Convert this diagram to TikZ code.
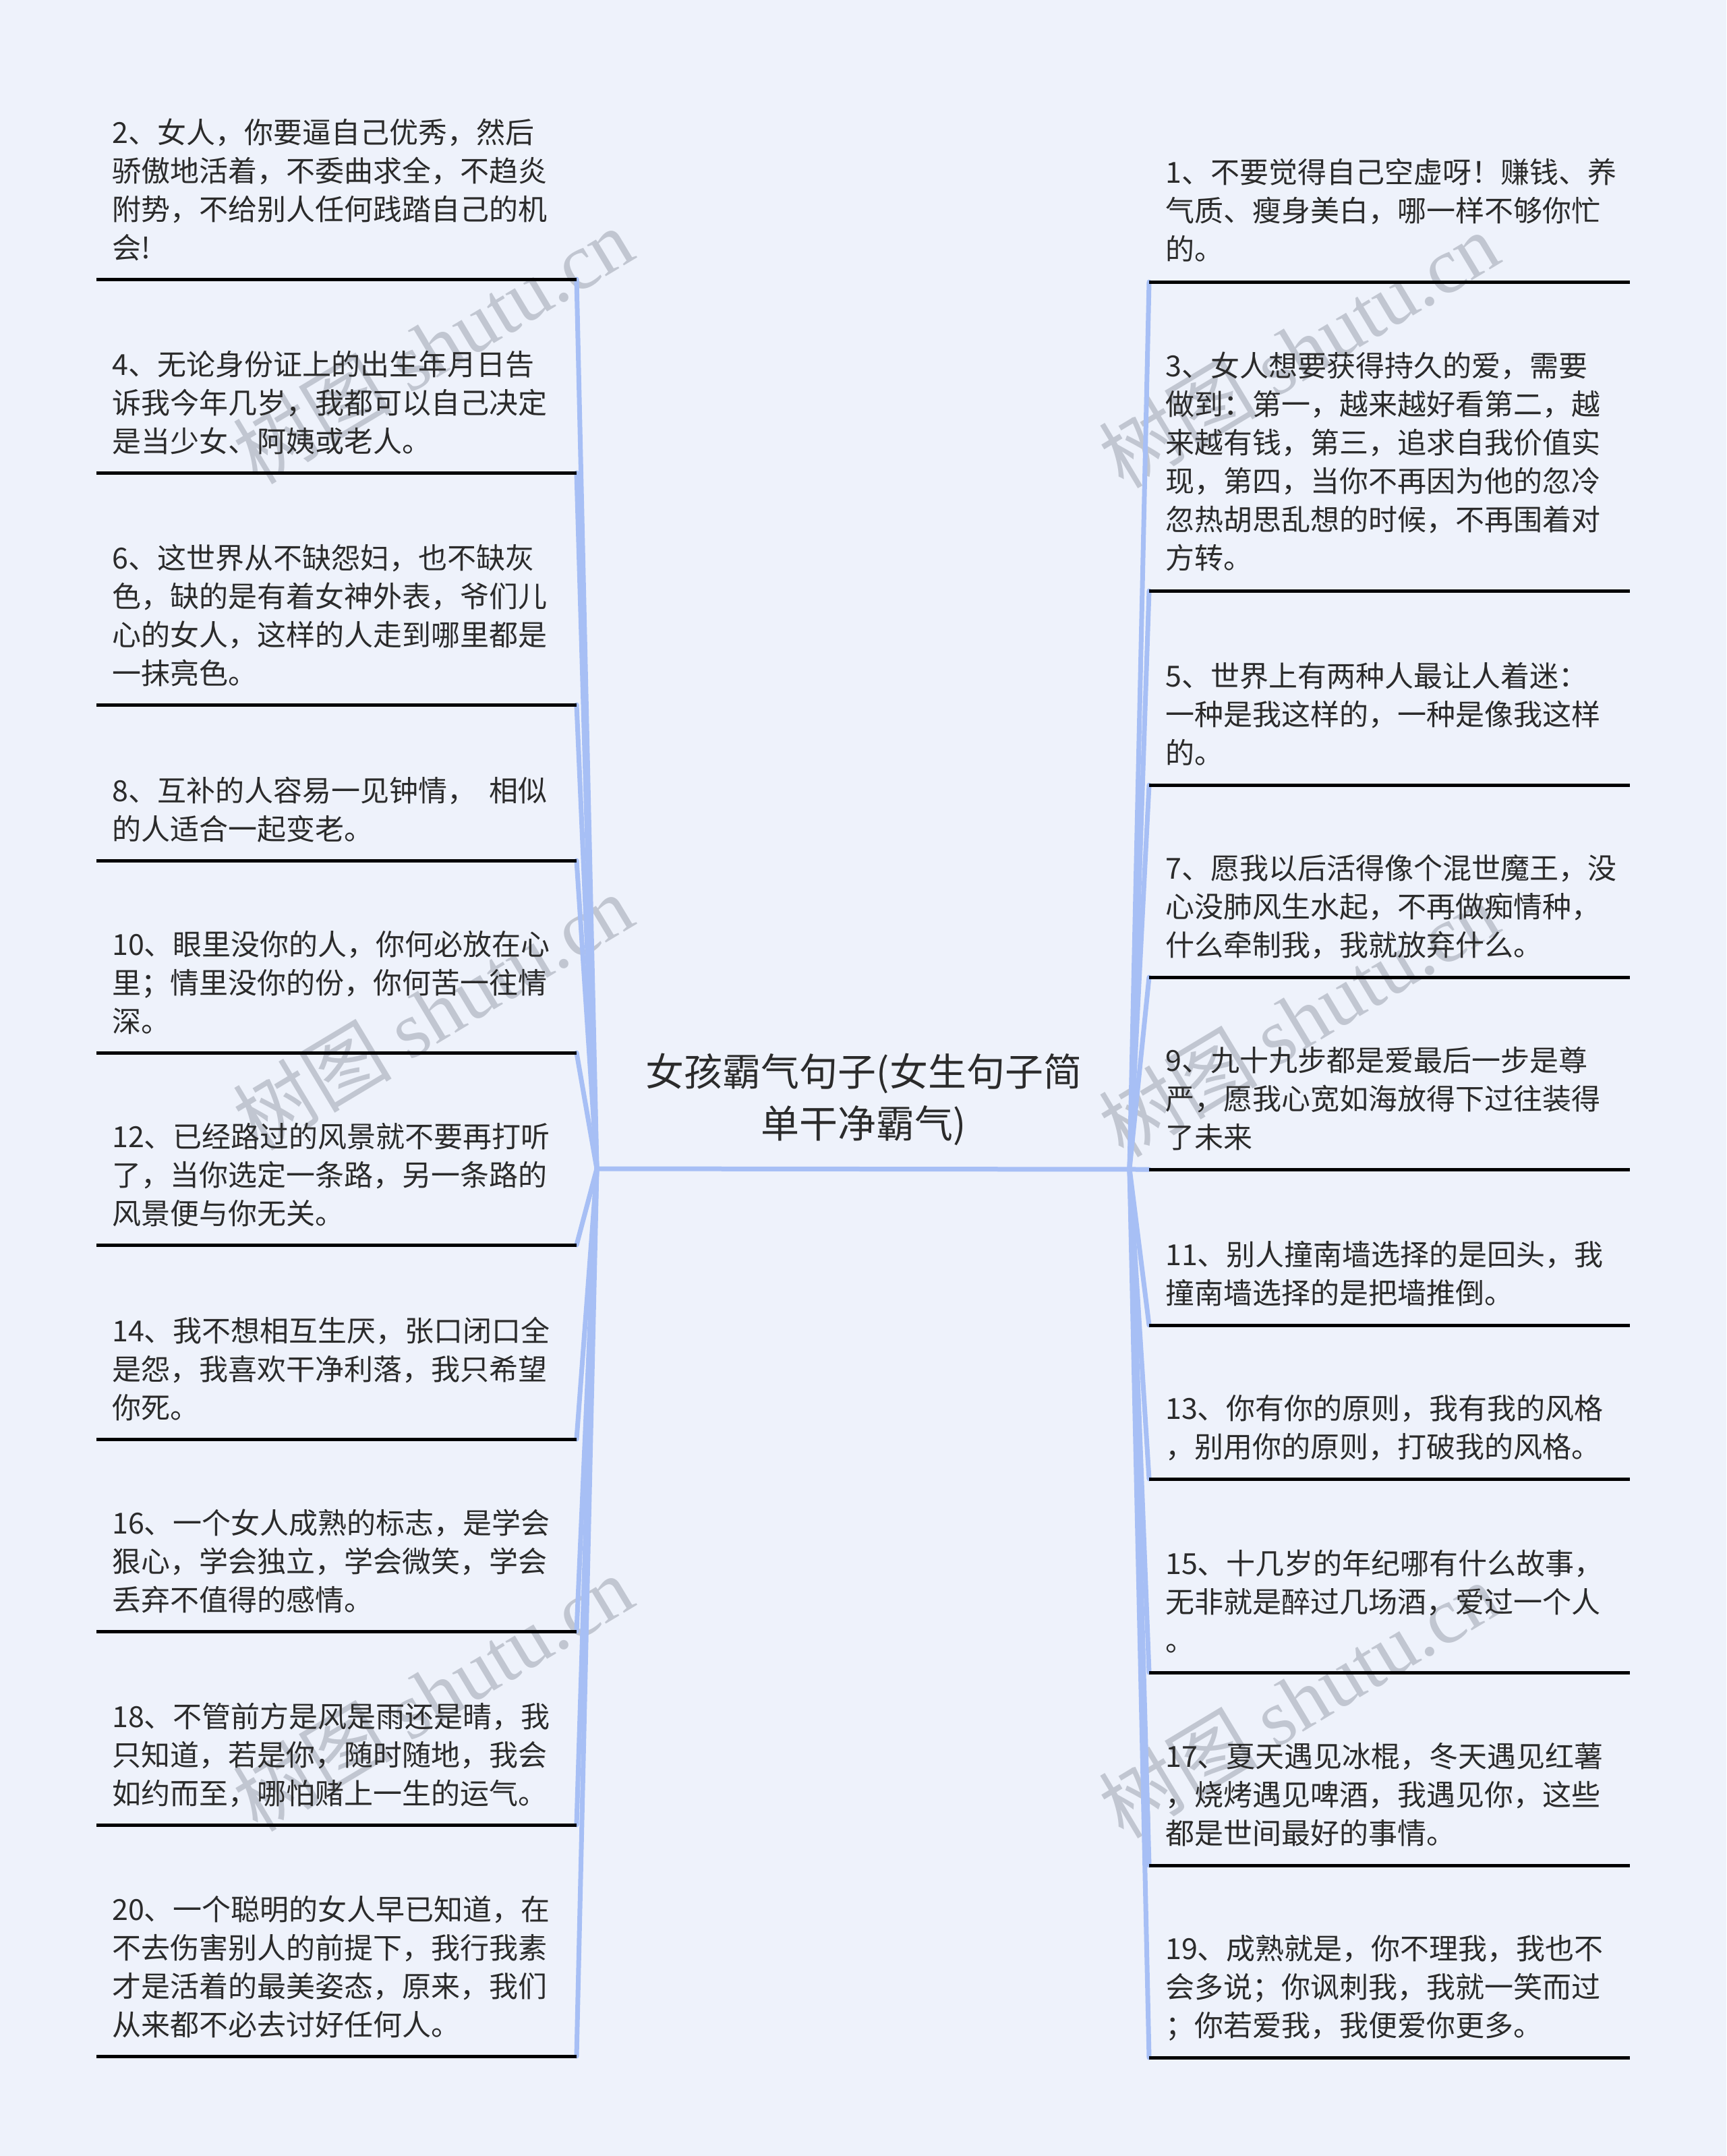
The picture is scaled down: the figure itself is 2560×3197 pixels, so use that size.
\documentclass[tikz,border=0pt]{standalone}
\usepackage{fontspec}
\setmainfont{Noto Sans CJK SC}
\newfontfamily\wmserif{Liberation Serif}
\definecolor{bgc}{HTML}{EEF2FB}
\definecolor{branchc}{HTML}{A7BFF5}
\definecolor{txtc}{HTML}{2B2B2B}
\definecolor{wmc}{RGB}{140,146,158}
\begin{document}
\begin{tikzpicture}[x=1pt,y=-1pt,
  item/.style={anchor=base west, align=left, inner sep=0pt, text=txtc, font=\fontsize{43}{57}\selectfont},
  rootnode/.style={anchor=base, align=center, inner sep=0pt, text=txtc, font=\fontsize{57}{77}\selectfont},
  uline/.style={line width=5pt, draw=black},
  branch/.style={line width=7pt, draw=branchc, line cap=round},
  wmark/.style={rotate=31, text=wmc, opacity=0.45, inner sep=0pt, font=\fontsize{118}{118}\selectfont}]
\fill[bgc] (0,0) rectangle (2560,3197);
% watermarks (behind)
\foreach \i/\x/\y in {1/642/512,2/1926/518,3/642/1500,4/1926/1510,5/642/2510,6/1926/2520}{
  \node[wmark] (wm\i) at (\x,\y) {树图 {\wmserif shutu.cn}};
}
% root
\node[rootnode] (root) at (1281,1687) {女孩霸气句子(女生句子简\\单干净霸气)};
\coordinate (jl) at (885,1733);
\coordinate (jr) at (1675,1733);
% underline coordinates
\foreach \n/\y in {2/414,4/701,6/1045,8/1276,10/1561,12/1846,14/2134,16/2419,18/2706,20/3049}{
  \coordinate (la\n) at (143,\y);
  \coordinate (lb\n) at (855,\y);
}
\foreach \n/\y in {1/418,3/876,5/1164,7/1449,9/1734,11/1965,13/2193,15/2480,17/2766,19/3051}{
  \coordinate (ra\n) at (1704,\y);
  \coordinate (rb\n) at (2417,\y);
}
% connectors
\draw[branch] (jl) -- (ra9);
\foreach \n in {2,4,6,8,10,12,14,16,18,20}{\draw[branch] (jl) -- (lb\n);}
\foreach \n in {1,3,5,7,11,13,15,17,19}{\draw[branch] (jr) -- (ra\n);}
% underlines
\foreach \n in {2,4,6,8,10,12,14,16,18,20}{\draw[uline] (la\n) -- (lb\n);}
\foreach \n in {1,3,5,7,9,11,13,15,17,19}{\draw[uline] (ra\n) -- (rb\n);}
% left texts (anchor = baseline of last line)
\node[item] (t2) at (166,383) {2、女人，你要逼自己优秀，然后\\骄傲地活着，不委曲求全，不趋炎\\附势，不给别人任何践踏自己的机\\会!};
\node[item] (t4) at (166,670) {4、无论身份证上的出生年月日告\\诉我今年几岁，我都可以自己决定\\是当少女、阿姨或老人。};
\node[item] (t6) at (166,1014) {6、这世界从不缺怨妇，也不缺灰\\色，缺的是有着女神外表，爷们儿\\心的女人，这样的人走到哪里都是\\一抹亮色。};
\node[item] (t8) at (166,1245) {8、互补的人容易一见钟情，\hspace{0.45em}相似\\的人适合一起变老。};
\node[item] (t10) at (166,1530) {10、眼里没你的人，你何必放在心\\里；情里没你的份，你何苦一往情\\深。};
\node[item] (t12) at (166,1815) {12、已经路过的风景就不要再打听\\了，当你选定一条路，另一条路的\\风景便与你无关。};
\node[item] (t14) at (166,2103) {14、我不想相互生厌，张口闭口全\\是怨，我喜欢干净利落，我只希望\\你死。};
\node[item] (t16) at (166,2388) {16、一个女人成熟的标志，是学会\\狠心，学会独立，学会微笑，学会\\丢弃不值得的感情。};
\node[item] (t18) at (166,2675) {18、不管前方是风是雨还是晴，我\\只知道，若是你，随时随地，我会\\如约而至，哪怕赌上一生的运气。};
\node[item] (t20) at (166,3018) {20、一个聪明的女人早已知道，在\\不去伤害别人的前提下，我行我素\\才是活着的最美姿态，原来，我们\\从来都不必去讨好任何人。};
% right texts
\node[item] (t1) at (1728,385) {1、不要觉得自己空虚呀！赚钱、养\\气质、瘦身美白，哪一样不够你忙\\的。};
\node[item] (t3) at (1728,843) {3、女人想要获得持久的爱，需要\\做到：第一，越来越好看第二，越\\来越有钱，第三，追求自我价值实\\现，第四，当你不再因为他的忽冷\\忽热胡思乱想的时候，不再围着对\\方转。};
\node[item] (t5) at (1728,1132) {5、世界上有两种人最让人着迷：\\一种是我这样的，一种是像我这样\\的。};
\node[item] (t7) at (1728,1417) {7、愿我以后活得像个混世魔王，没\\心没肺风生水起，不再做痴情种，\\什么牵制我，我就放弃什么。};
\node[item] (t9) at (1728,1702) {9、九十九步都是爱最后一步是尊\\严，愿我心宽如海放得下过往装得\\了未来};
\node[item] (t11) at (1728,1933) {11、别人撞南墙选择的是回头，我\\撞南墙选择的是把墙推倒。};
\node[item] (t13) at (1728,2161) {13、你有你的原则，我有我的风格\\，别用你的原则，打破我的风格。};
\node[item] (t15) at (1728,2448) {15、十几岁的年纪哪有什么故事，\\无非就是醉过几场酒，爱过一个人\\。};
\node[item] (t17) at (1728,2734) {17、夏天遇见冰棍，冬天遇见红薯\\，烧烤遇见啤酒，我遇见你，这些\\都是世间最好的事情。};
\node[item] (t19) at (1728,3019) {19、成熟就是，你不理我，我也不\\会多说；你讽刺我，我就一笑而过\\；你若爱我，我便爱你更多。};
\end{tikzpicture}
\end{document}
